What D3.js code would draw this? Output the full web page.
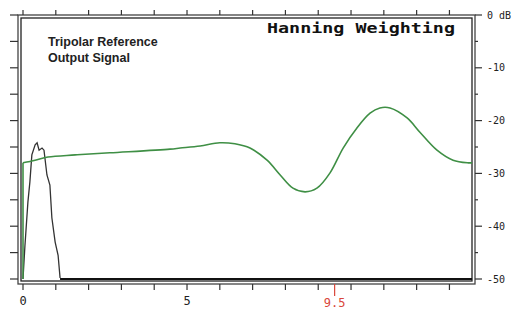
<!DOCTYPE html>
<html>
<head>
<meta charset="utf-8">
<script src="https://cdn.jsdelivr.net/npm/d3@7"></script>
<style>
  body { margin: 0; background: #fff; }
  svg { display: block; }
</style>
</head>
<body>
<svg id="chart" width="531" height="318"></svg>
<script>
// green response (x units, dB)
var greenX  = [0, 0, 0.37, 0.76, 1.59, 2.65, 4.48, 4.79, 5.40, 6.00, 6.46, 6.92, 7.44, 7.84, 8.23, 8.60, 8.96, 9.36, 9.76, 10.18, 10.58, 10.88, 11.19, 11.71, 12.10, 12.62, 13.11, 13.57, 13.69];
var greenDb = [-50, -28.0, -27.5, -26.9, -26.5, -26.1, -25.4, -25.2, -24.8, -24.2, -24.4, -25.2, -27.5, -30.3, -32.8, -33.5, -32.8, -29.9, -25.2, -21.4, -18.6, -17.6, -17.6, -19.5, -22.2, -25.6, -27.5, -28.0, -28.0];

// black reference output signal
var spikeX  = [0, 0.06, 0.15, 0.21, 0.27, 0.37, 0.43, 0.49, 0.58, 0.64, 0.73, 0.82, 0.88, 0.98, 1.07, 1.13];
var spikeDb = [-50, -43.6, -35.4, -31.6, -26.5, -24.6, -24.2, -25.6, -25.2, -25.6, -30.3, -32.2, -38.4, -43.0, -45.5, -49.8];
var floorX  = [1.13, 13.69];
var floorDb = [-50, -50];

var xTicks = [0, 1, 2, 3, 4, 5, 6, 7, 8, 9, 10, 11, 12, 13];
var xTickLabels = {0: "0", 5: "5"};
var markerX = 9.5;
var markerLabel = "9.5";
var yTicks = [0, -5, -10, -15, -20, -25, -30, -35, -40, -45, -50];
var yTickLabels = {0: "0 dB", "-10": "-10", "-20": "-20", "-30": "-30", "-40": "-40", "-50": "-50"};

var svg = d3.select("#chart");
var x = d3.scaleLinear().domain([0, 13.7]).range([23, 472.4]);
var y = d3.scaleLinear().domain([-50, 0]).range([279, 15]);

// double frame
svg.append("rect").attr("x", 18).attr("y", 15).attr("width", 457).attr("height", 269)
  .attr("fill", "none").attr("stroke", "#444").attr("stroke-width", 1.3);
svg.append("rect").attr("x", 21).attr("y", 18).attr("width", 451).attr("height", 263)
  .attr("fill", "none").attr("stroke", "#222").attr("stroke-width", 1.3);

// left ticks
svg.append("g").selectAll("line").data(yTicks).enter().append("line")
  .attr("x1", 10).attr("x2", 18)
  .attr("y1", function(d){ return y(d); }).attr("y2", function(d){ return y(d); })
  .attr("stroke", "#333").attr("stroke-width", 1.2);

// right ticks + labels
svg.append("g").selectAll("line").data(yTicks).enter().append("line")
  .attr("x1", 475)
  .attr("x2", function(d){ return yTickLabels[d] ? 482 : 478; })
  .attr("y1", function(d){ return y(d); }).attr("y2", function(d){ return y(d); })
  .attr("stroke", "#333").attr("stroke-width", 1.2);
svg.append("g").selectAll("text").data(yTicks.filter(function(d){ return yTickLabels[d]; }))
  .enter().append("text")
  .attr("x", 487).attr("y", function(d){ return y(d) + 3.5; })
  .attr("font-family", "DejaVu Sans Mono, monospace").attr("font-size", 10)
  .attr("fill", "#222")
  .text(function(d){ return yTickLabels[d]; });

// top ticks
svg.append("g").selectAll("line").data(xTicks).enter().append("line")
  .attr("x1", function(d){ return x(d); }).attr("x2", function(d){ return x(d); })
  .attr("y1", 10).attr("y2", 15)
  .attr("stroke", "#333").attr("stroke-width", 1.2);

// bottom ticks + labels
svg.append("g").selectAll("line").data(xTicks).enter().append("line")
  .attr("x1", function(d){ return x(d); }).attr("x2", function(d){ return x(d); })
  .attr("y1", 284).attr("y2", 290)
  .attr("stroke", "#333").attr("stroke-width", 1.2);
svg.append("g").selectAll("text").data(xTicks.filter(function(d){ return xTickLabels[d]; }))
  .enter().append("text")
  .attr("x", function(d){ return x(d); }).attr("y", 305)
  .attr("text-anchor", "middle")
  .attr("font-family", "DejaVu Sans Mono, monospace").attr("font-size", 12)
  .attr("fill", "#222")
  .text(function(d){ return xTickLabels[d]; });

// red marker
svg.append("line").attr("x1", x(markerX)).attr("x2", x(markerX))
  .attr("y1", 284).attr("y2", 296).attr("stroke", "#d9463a").attr("stroke-width", 1.2);
svg.append("text").attr("x", x(markerX)).attr("y", 307).attr("text-anchor", "middle")
  .attr("font-family", "DejaVu Sans Mono, monospace").attr("font-size", 12)
  .attr("fill", "#d9463a").text(markerLabel);

// curves
var line = d3.line().x(function(d){ return x(d[0]); }).y(function(d){ return y(d[1]); });
var smooth = d3.line().curve(d3.curveCatmullRom.alpha(0.5))
  .x(function(d){ return x(d[0]); }).y(function(d){ return y(d[1]); });
var green = d3.zip(greenX, greenDb);
svg.append("path").datum(d3.zip(floorX, floorDb)).attr("d", line)
  .attr("fill", "none").attr("stroke", "#111").attr("stroke-width", 2.2);
svg.append("path").datum(d3.zip(spikeX, spikeDb)).attr("d", line)
  .attr("fill", "none").attr("stroke", "#333").attr("stroke-width", 1.3);
// vertical rise drawn straight, the rest smoothed
svg.append("path").datum(green.slice(0, 2)).attr("d", line)
  .attr("fill", "none").attr("stroke", "#3f8f45").attr("stroke-width", 1.6);
svg.append("path").datum(green.slice(1)).attr("d", smooth)
  .attr("fill", "none").attr("stroke", "#3f8f45").attr("stroke-width", 1.6);

// titles
svg.append("text").attr("x", 267).attr("y", 33)
  .attr("font-family", "DejaVu Sans Mono, monospace").attr("font-weight", "bold")
  .attr("font-size", 14).attr("textLength", 188).attr("lengthAdjust", "spacingAndGlyphs")
  .attr("fill", "#111").text("Hanning Weighting");
svg.append("text").attr("x", 48).attr("y", 46)
  .attr("font-family", "Liberation Sans, Arial, sans-serif").attr("font-weight", "bold")
  .attr("font-size", 12.5).attr("fill", "#222").text("Tripolar Reference");
svg.append("text").attr("x", 48).attr("y", 62)
  .attr("font-family", "Liberation Sans, Arial, sans-serif").attr("font-weight", "bold")
  .attr("font-size", 12.5).attr("fill", "#222").text("Output Signal");
</script>
</body>
</html>
